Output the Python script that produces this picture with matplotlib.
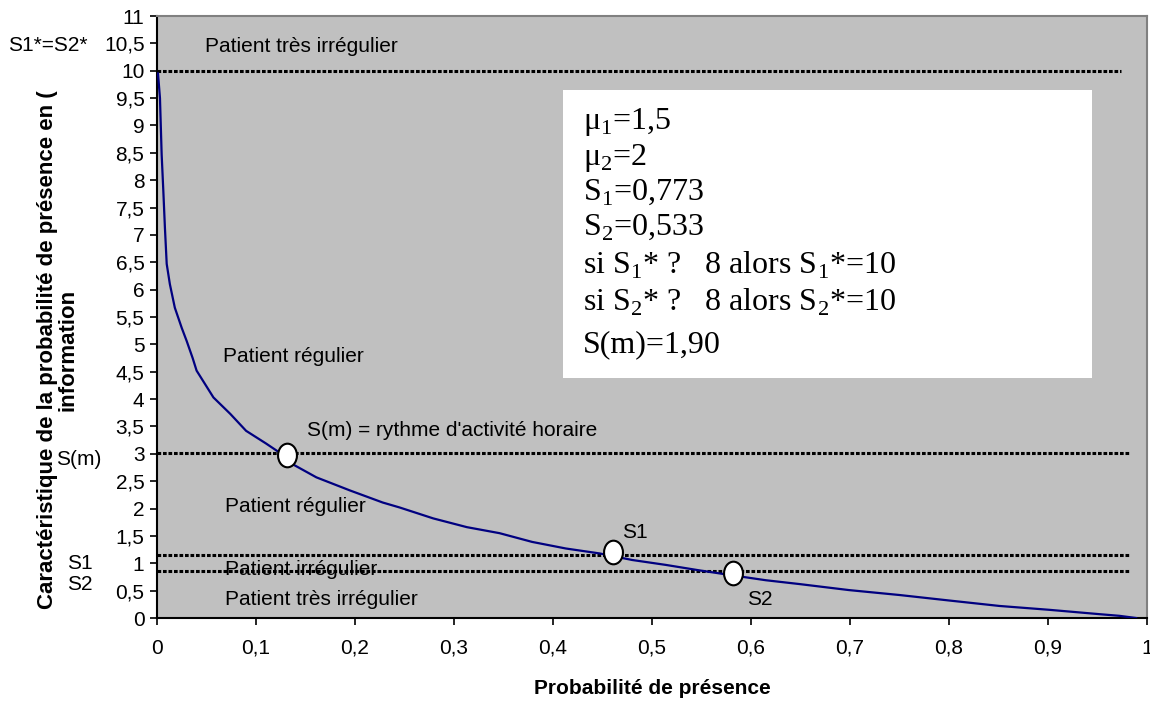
import matplotlib
matplotlib.use('Agg')
import matplotlib.pyplot as plt
from matplotlib.path import Path
from matplotlib.transforms import Affine2D, blended_transform_factory

plt.rcParams['font.family'] = ['Liberation Sans', 'DejaVu Sans']
plt.rcParams['mathtext.fontset'] = 'custom'
plt.rcParams['mathtext.rm'] = 'Liberation Serif'

# curve
proba = [0.001, 0.003, 0.0047, 0.0064, 0.008, 0.0098, 0.013, 0.018, 0.025, 0.030,
         0.036, 0.040, 0.057, 0.074, 0.090, 0.110, 0.124, 0.134, 0.161, 0.195,
         0.228, 0.245, 0.279, 0.313, 0.346, 0.379, 0.413, 0.447, 0.480, 0.514,
         0.548, 0.581, 0.615, 0.649, 0.699, 0.750, 0.800, 0.851, 0.901, 0.952,
         0.972, 0.989]
caract = [9.95, 9.5, 8.47, 7.8, 7.13, 6.47, 6.1, 5.67, 5.3, 5.06,
          4.75, 4.52, 4.03, 3.73, 3.42, 3.19, 3.02, 2.84, 2.57, 2.33,
          2.11, 2.02, 1.82, 1.66, 1.55, 1.39, 1.27, 1.18, 1.06, 0.97,
          0.87, 0.78, 0.69, 0.62, 0.51, 0.42, 0.32, 0.22, 0.15, 0.07,
          0.04, 0.0]

# horizontal threshold lines
seuils = [10.0, 3.01, 1.15, 0.86]
seuils_fin = [0.974, 0.982, 0.982, 0.982]

# points marked on the curve
pts_x = [0.131, 0.461, 0.582]
pts_y = [2.97, 1.2, 0.82]

x_ticks = [i / 10 for i in range(11)]
x_labels = ['0', '0,1', '0,2', '0,3', '0,4', '0,5', '0,6', '0,7', '0,8', '0,9', '1']
y_ticks = [i / 2 for i in range(23)]
y_labels = ['0', '0,5', '1', '1,5', '2', '2,5', '3', '3,5', '4', '4,5', '5', '5,5',
            '6', '6,5', '7', '7,5', '8', '8,5', '9', '9,5', '10', '10,5', '11']

fig = plt.figure(figsize=(11.5, 7.02), dpi=100, facecolor='white')
ax = fig.add_axes([157 / 1150, 1 - 618 / 702, 990 / 1150, 602 / 702])
ax.set_facecolor('#c0c0c0')
ax.set_xlim(0, 1)
ax.set_ylim(0, 11)

for y, xe in zip(seuils, seuils_fin):
    ax.plot([0, xe], [y, y], color='black', linewidth=2.2, linestyle=(0, (1.2, 0.6)), zorder=2)

ax.plot(proba, caract, color='#000080', linewidth=1.6, zorder=3)

ellipse = Path.unit_circle().transformed(Affine2D().scale(0.8, 1.0))
ax.plot(pts_x, pts_y, linestyle='none', marker=ellipse, markersize=17,
        markerfacecolor='white', markeredgecolor='black', markeredgewidth=1.5, zorder=4)

fs = 15
ax.set_xticks(x_ticks)
ax.set_xticklabels(x_labels)
ax.set_yticks(y_ticks)
ax.set_yticklabels(y_labels)
ax.tick_params(direction='out', length=5, width=1.2, labelsize=fs, colors='black')
ax.tick_params(axis='x', pad=10)
ax.tick_params(axis='y', pad=4)
for s in ['left', 'bottom']:
    ax.spines[s].set_color('black')
    ax.spines[s].set_linewidth(1.5)
for s in ['top', 'right']:
    ax.spines[s].set_color('#808080')
    ax.spines[s].set_linewidth(1.5)

# zone labels
ax.text(0.048, 10.45, 'Patient très irrégulier', fontsize=fs, va='center')
ax.text(0.067, 4.77, 'Patient régulier', fontsize=fs, va='center')
ax.text(0.152, 3.43, "S(m) = rythme d'activité horaire", fontsize=fs, va='center')
ax.text(0.069, 2.03, 'Patient régulier', fontsize=fs, va='center')
ax.text(0.069, 0.88, 'Patient irrégulier', fontsize=fs, va='center')
ax.text(0.069, 0.33, 'Patient très irrégulier', fontsize=fs, va='center')
ax.text(0.47, 1.57, 'S1', fontsize=fs, va='center')
ax.text(0.596, 0.33, 'S2', fontsize=fs, va='center')

# labels in the left margin
tr = blended_transform_factory(fig.transFigure, ax.transData)
ax.text(8 / 1150, 10.47, 'S1*=S2*', fontsize=fs, va='center', transform=tr, clip_on=False)
ax.text(56 / 1150, 2.89, 'S(m)', fontsize=fs, va='center', transform=tr, clip_on=False)
ax.text(67 / 1150, 0.99, 'S1', fontsize=fs, va='center', transform=tr, clip_on=False)
ax.text(67 / 1150, 0.62, 'S2', fontsize=fs, va='center', transform=tr, clip_on=False)

# parameter box
box = plt.Rectangle((563 / 1150, 1 - 378 / 702), (1092 - 563) / 1150, (378 - 90) / 702,
                    transform=fig.transFigure, facecolor='white', edgecolor='none', zorder=5)
fig.patches.append(box)
lignes = [r'$\mathrm{μ}_1$=1,5', r'$\mathrm{μ}_2$=2', r'$\mathrm{S}_1$=0,773', r'$\mathrm{S}_2$=0,533',
          r'si $\mathrm{S}_1$* ?   8 alors $\mathrm{S}_1$*=10',
          r'si $\mathrm{S}_2$* ?   8 alors $\mathrm{S}_2$*=10', 'S(m)=1,90']
ly = [122, 158, 192, 227, 265, 302, 345]
for t, y in zip(lignes, ly):
    fig.text(583 / 1150, 1 - y / 702, t, fontsize=23, family='Liberation Serif',
             va='center', ha='left', zorder=6)

# axis titles
fig.text(652 / 1150, 1 - 689 / 702, 'Probabilité de présence', fontsize=fs,
         fontweight='bold', ha='center', va='center')
fig.text(58 / 1150, 1 - 350 / 702,
         "Caractéristique de la probabilité de présence en (\ninformation",
         fontsize=16, fontweight='bold', rotation=90, ha='center', va='center',
         multialignment='center', linespacing=0.95)

fig.savefig('out.png', dpi=100, facecolor='white')
